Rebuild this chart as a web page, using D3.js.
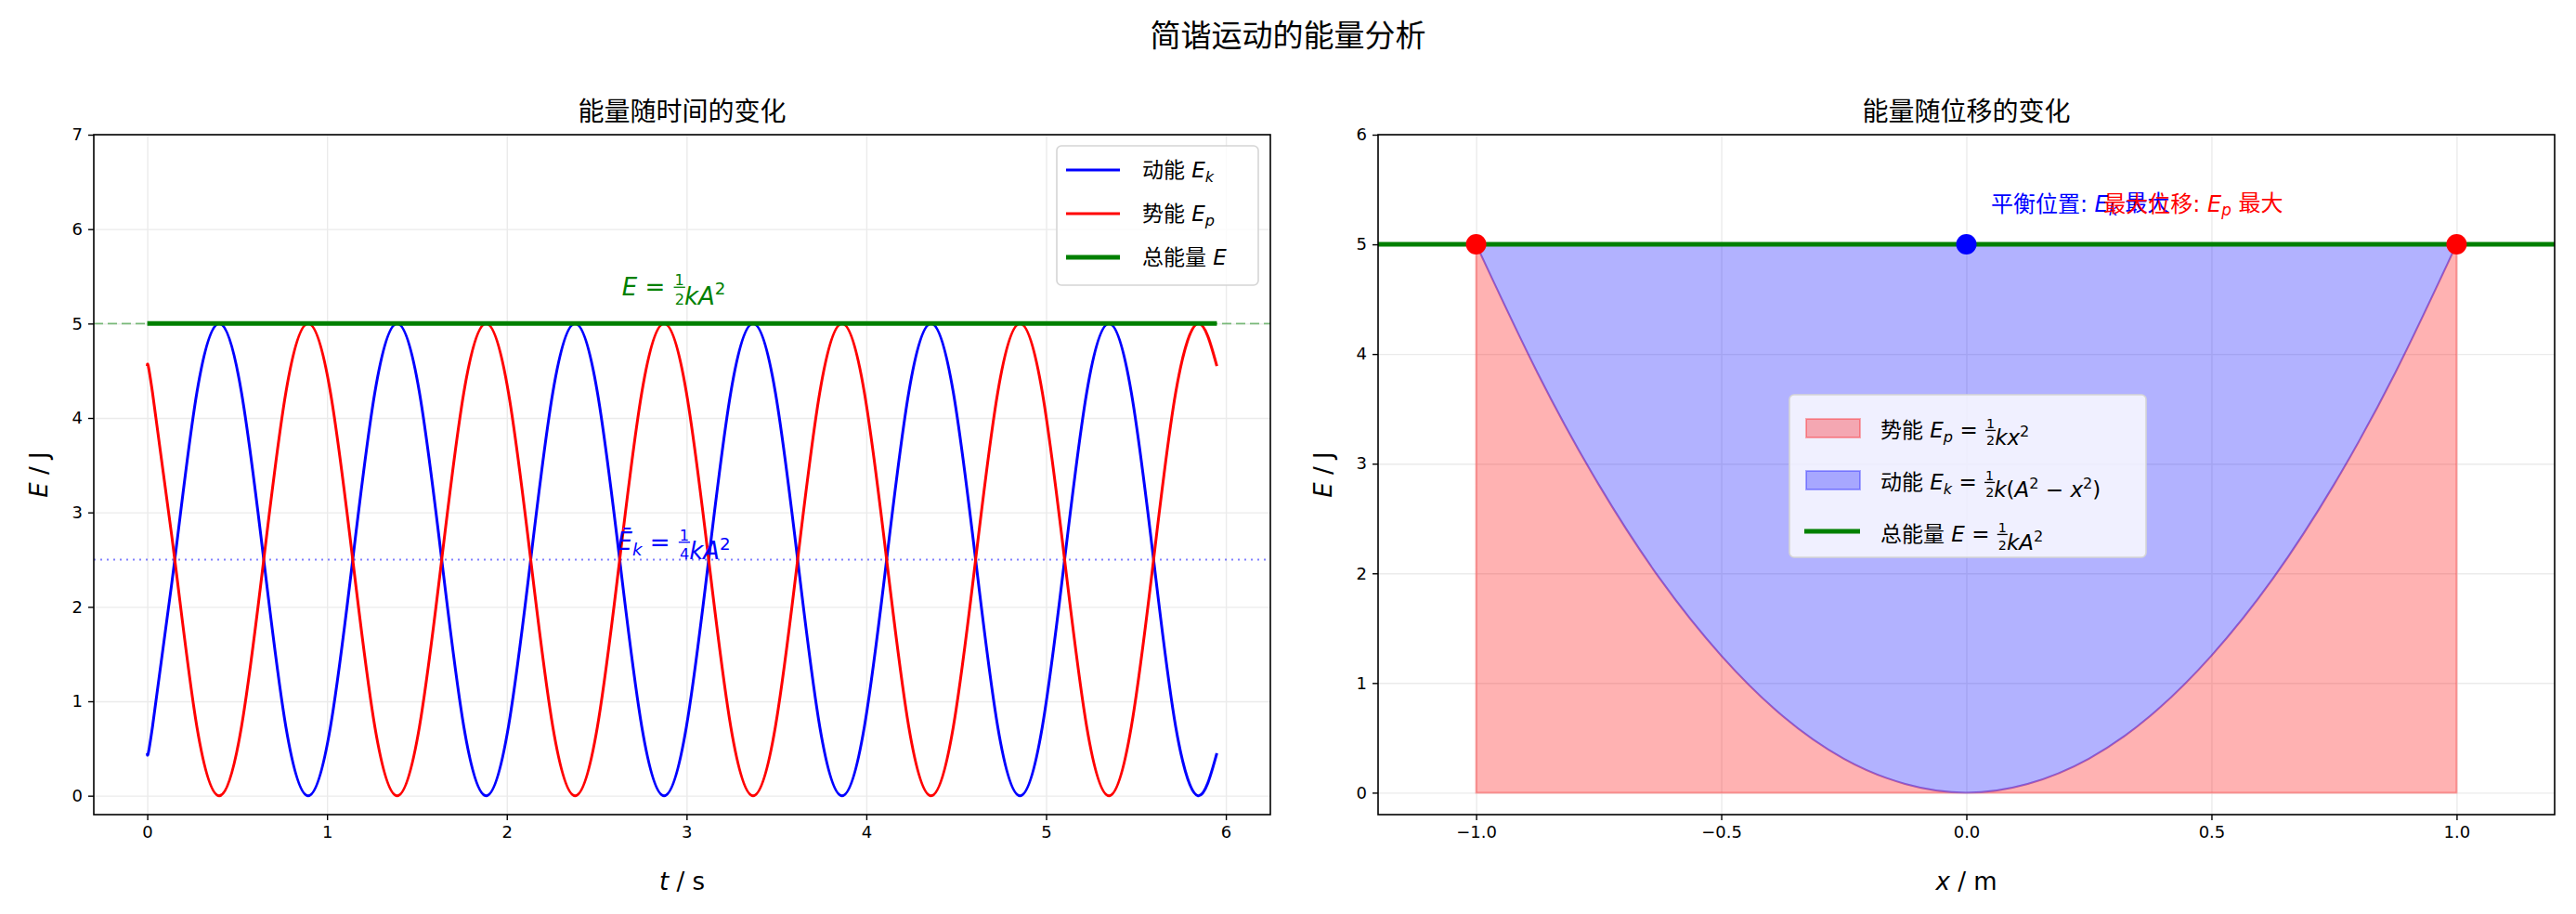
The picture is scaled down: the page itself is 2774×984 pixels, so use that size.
<!DOCTYPE html>
<html><head><meta charset="utf-8">
<script src="https://cdn.jsdelivr.net/npm/d3@7"></script>
<style>body{margin:0;background:#fff} text{font-family:"DejaVu Sans","Noto Sans CJK SC",sans-serif}</style>
</head><body>
<svg id="c" width="2774" height="984"></svg>
<script>
// left panel: energy vs time
var timeS = [0,0.029,0.153,0.276,0.4,0.524,0.648,0.771,0.895,1.019,1.143,1.266,1.39,1.514,1.638,1.761,1.885,2.009,2.133,2.256,2.38,2.504,2.628,2.751,2.875,2.999,3.123,3.246,3.37,3.494,3.618,3.741,3.865,3.989,4.113,4.236,4.36,4.484,4.608,4.731,4.855,4.979,5.103,5.226,5.35,5.474,5.598,5.721,5.845,5.95];
var kinetic = [0.45,0.73,2.5,4.27,5,4.27,2.5,0.73,0,0.73,2.5,4.27,5,4.27,2.5,0.73,0,0.73,2.5,4.27,5,4.27,2.5,0.73,0,0.73,2.5,4.27,5,4.27,2.5,0.73,0,0.73,2.5,4.27,5,4.27,2.5,0.73,0,0.73,2.5,4.27,5,4.27,2.5,0.73,0,0.45];
var potential = [4.55,4.27,2.5,0.73,0,0.73,2.5,4.27,5,4.27,2.5,0.73,0,0.73,2.5,4.27,5,4.27,2.5,0.73,0,0.73,2.5,4.27,5,4.27,2.5,0.73,0,0.73,2.5,4.27,5,4.27,2.5,0.73,0,0.73,2.5,4.27,5,4.27,2.5,0.73,0,0.73,2.5,4.27,5,4.55];
var totalE = 5, meanEk = 2.5;
var tTicks = [0,1,2,3,4,5,6], eTicksL = [0,1,2,3,4,5,6,7];
// right panel: energy vs displacement
var posX = [-1,-0.875,-0.75,-0.625,-0.5,-0.375,-0.25,-0.125,0,0.125,0.25,0.375,0.5,0.625,0.75,0.875,1];
var epX = [5,3.83,2.81,1.95,1.25,0.70,0.31,0.08,0,0.08,0.31,0.70,1.25,1.95,2.81,3.83,5];
var markX = [-1,0,1], markE = [5,5,5], markC = ["red","blue","red"];
var xTicksR = [-1,-0.5,0,0.5,1], eTicksR = [0,1,2,3,4,5,6];

var svg = d3.select("#c");
var T = 145, B = 877;

// math-ish text: segments [text, style, dy] style: r roman, i italic, sub, sup, frac "n/d"
function mtext(g, x, y, segs, size, color, anchor) {
  var t = g.append("text").attr("x", x).attr("y", y).attr("fill", color).style("font-size", size + "px");
  var fr = [];
  segs.forEach(function(s) {
    if (s[1] == "frac") {
      var nd = s[0].split("/");
      var n = t.append("tspan").attr("dx", 2).attr("dy", -size*0.42).style("font-size", size*0.62 + "px").text(nd[0]);
      t.append("tspan").attr("dx", -size*0.39).attr("dy", size*0.8).style("font-size", size*0.62 + "px").text(nd[1]);
      t.append("tspan").attr("dx", 2).attr("dy", -size*0.38).text("");
      fr.push(n);
      return;
    }
    var sp = t.append("tspan").text(s[0]);
    if (s[1] == "i") sp.style("font-style", "italic");
    if (s[1] == "sub") sp.style("font-style", "italic").style("font-size", size*0.7 + "px").attr("dy", size*0.2);
    if (s[1] == "sup") sp.style("font-size", size*0.7 + "px").attr("dy", -size*0.4);
    if (s[2]) sp.attr("dy", s[2]);
  });
  if (anchor == "middle") {
    var w = t.node().getComputedTextLength();
    t.attr("x", x - w/2);
  }
  fr.forEach(function(n) {
    var p = n.node().getStartPositionOfChar(0);
    var w = n.node().getComputedTextLength();
    g.append("line").attr("x1", p.x - 1).attr("x2", p.x + w + 1)
      .attr("y1", y - size*0.33).attr("y2", y - size*0.33).attr("stroke", color).attr("stroke-width", 1.3);
  });
  return t;
}

function frame(g, x, y, w, h) {
  g.append("rect").attr("x", x).attr("y", y).attr("width", w).attr("height", h)
    .attr("fill", "none").attr("stroke", "black").attr("stroke-width", 1.6);
}

function panel(L, R, xs, ys, xt, yt) {
  var g = svg.append("g");
  g.append("g").attr("transform", "translate(0," + B + ")")
    .call(d3.axisBottom(xs).tickValues(xt).tickSize(-(B - T)).tickFormat(""))
    .call(function(a){ a.selectAll("line").attr("stroke", "#ebebeb").attr("stroke-width", 1.4); a.select(".domain").remove(); });
  g.append("g").attr("transform", "translate(" + L + ",0)")
    .call(d3.axisLeft(ys).tickValues(yt).tickSize(-(R - L)).tickFormat(""))
    .call(function(a){ a.selectAll("line").attr("stroke", "#ebebeb").attr("stroke-width", 1.4); a.select(".domain").remove(); });
  return g;
}

function axes(g, L, R, xs, ys, xt, yt, xfmt) {
  var ax = g.append("g").attr("transform", "translate(0," + B + ")")
    .call(d3.axisBottom(xs).tickValues(xt).tickSize(6).tickPadding(6).tickFormat(xfmt));
  var ay = g.append("g").attr("transform", "translate(" + L + ",0)")
    .call(d3.axisLeft(ys).tickValues(yt).tickSize(6).tickPadding(6).tickFormat(d3.format("d")));
  [ax, ay].forEach(function(a){
    a.select(".domain").remove();
    a.selectAll("line").attr("stroke", "black").attr("stroke-width", 1.4);
    a.selectAll("text").style("font-size", "18px").attr("fill", "black");
  });
  frame(g, L, T, R - L, B - T);
}

function labels(g, L, R, title, xl) {
  g.append("text").attr("x", (L + R)/2).attr("y", 130).attr("text-anchor", "middle")
    .style("font-size", "28px").style("font-family", "Noto Sans CJK SC").text(title);
  mtext(g, (L + R)/2, 958, [[xl, "i"], [" / ", "r"], [xl == "t" ? "s" : "m", "r"]], 26, "black", "middle");
  var yl = g.append("g").attr("transform", "translate(" + (L - 50) + "," + (T + B)/2 + ") rotate(-90)");
  mtext(yl, 0, 0, [["E", "i"], [" / J", "r"]], 26, "black", "middle");
}

svg.append("text").attr("x", 1387).attr("y", 50).attr("text-anchor", "middle")
  .style("font-size", "33px").style("font-family", "Noto Sans CJK SC").text("简谐运动的能量分析");

// ---- left
var L1 = 101, R1 = 1368;
var x1 = d3.scaleLinear().domain([-0.2975, 6.2475]).range([L1, R1]);
var y1 = d3.scaleLinear().domain([-0.2, 7]).range([B, T]);
var g1 = panel(L1, R1, x1, y1, tTicks, eTicksL);
g1.append("line").attr("x1", L1).attr("x2", R1).attr("y1", y1(totalE)).attr("y2", y1(totalE))
  .attr("stroke", "green").attr("stroke-opacity", 0.5).attr("stroke-width", 1.6).attr("stroke-dasharray", "10,5");
g1.append("line").attr("x1", L1).attr("x2", R1).attr("y1", y1(meanEk)).attr("y2", y1(meanEk))
  .attr("stroke", "blue").attr("stroke-opacity", 0.5).attr("stroke-width", 2.2).attr("stroke-dasharray", "2,5");
var line1 = d3.line().x(function(d){ return x1(d[0]); }).y(function(d){ return y1(d[1]); }).curve(d3.curveNatural);
g1.append("path").attr("d", line1(d3.zip(timeS, kinetic))).attr("fill", "none").attr("stroke", "blue").attr("stroke-width", 3);
g1.append("path").attr("d", line1(d3.zip(timeS, potential))).attr("fill", "none").attr("stroke", "red").attr("stroke-width", 3);
g1.append("line").attr("x1", x1(timeS[0])).attr("x2", x1(timeS[timeS.length-1])).attr("y1", y1(totalE)).attr("y2", y1(totalE))
  .attr("stroke", "green").attr("stroke-width", 5);
mtext(g1, x1(2.95), y1(5.3), [["E", "i"], [" = ", "r"], ["1/2", "frac"], ["kA", "i"], ["2", "sup"]], 26, "green", "middle");
mtext(g1, x1(2.95), y1(2.6), [["Ē", "i"], ["k", "sub"], [" = ", "r", -5], ["1/4", "frac"], ["kA", "i"], ["2", "sup"]], 26, "blue", "middle");
axes(g1, L1, R1, x1, y1, tTicks, eTicksL, d3.format("d"));
labels(g1, L1, R1, "能量随时间的变化", "t");
// legend left
var lg = g1.append("g").attr("transform", "translate(1138,157)");
lg.append("rect").attr("width", 217).attr("height", 150).attr("rx", 5).attr("fill", "white").attr("fill-opacity", 0.8).attr("stroke", "#d5d5d5").attr("stroke-width", 1.6);
var leg1 = [["动能  ", "k", "blue", 3], ["势能  ", "p", "red", 3], ["总能量  ", "", "green", 5]];
leg1.forEach(function(d, i) {
  var yy = 26 + i * 47;
  lg.append("line").attr("x1", 10).attr("x2", 68).attr("y1", yy).attr("y2", yy).attr("stroke", d[2]).attr("stroke-width", d[3]);
  var segs = [[d[0], "r"], ["E", "i"]];
  if (d[1]) segs.push([d[1], "sub"]);
  mtext(lg, 92, yy + 8, segs, 23, "black");
});

// ---- right
var L2 = 1484, R2 = 2751;
var x2 = d3.scaleLinear().domain([-1.2, 1.2]).range([L2, R2]);
var y2 = d3.scaleLinear().domain([-0.2, 6]).range([B, T]);
var g2 = panel(L2, R2, x2, y2, xTicksR, eTicksR);
var pts = d3.zip(posX, epX);
var areaP = d3.area().x(function(d){ return x2(d[0]); }).y0(y2(0)).y1(function(d){ return y2(d[1]); }).curve(d3.curveNatural);
var areaK = d3.area().x(function(d){ return x2(d[0]); }).y0(function(d){ return y2(d[1]); }).y1(y2(totalE)).curve(d3.curveNatural);
g2.append("path").attr("d", areaP(pts)).attr("fill", "red").attr("fill-opacity", 0.3).attr("stroke", "red").attr("stroke-opacity", 0.3).attr("stroke-width", 2);
g2.append("path").attr("d", areaK(pts)).attr("fill", "blue").attr("fill-opacity", 0.3).attr("stroke", "blue").attr("stroke-opacity", 0.3).attr("stroke-width", 2);
g2.append("line").attr("x1", L2).attr("x2", R2).attr("y1", y2(totalE)).attr("y2", y2(totalE)).attr("stroke", "green").attr("stroke-width", 5);
g2.selectAll("circle").data(markX).enter().append("circle")
  .attr("cx", function(d){ return x2(d); }).attr("cy", function(d, i){ return y2(markE[i]); })
  .attr("r", 11).attr("fill", function(d, i){ return markC[i]; });
mtext(g2, x2(0.05), y2(5.3), [["平衡位置: ", "r"], ["E", "i"], ["k", "sub"], [" 最大", "r", -5]], 24, "blue");
mtext(g2, x2(0.28), y2(5.3), [["最大位移: ", "r"], ["E", "i"], ["p", "sub"], [" 最大", "r", -5]], 24, "red");
axes(g2, L2, R2, x2, y2, xTicksR, eTicksR, d3.format(".1f"));
labels(g2, L2, R2, "能量随位移的变化", "x");
// legend right
var lg2 = g2.append("g").attr("transform", "translate(1927,425)");
lg2.append("rect").attr("width", 384).attr("height", 175).attr("rx", 5).attr("fill", "white").attr("fill-opacity", 0.8).attr("stroke", "#d5d5d5").attr("stroke-width", 1.6);
lg2.append("rect").attr("x", 18).attr("y", 26).attr("width", 58).attr("height", 20).attr("fill", "red").attr("fill-opacity", 0.3).attr("stroke", "red").attr("stroke-opacity", 0.3).attr("stroke-width", 2);
lg2.append("rect").attr("x", 18).attr("y", 82).attr("width", 58).attr("height", 20).attr("fill", "blue").attr("fill-opacity", 0.3).attr("stroke", "blue").attr("stroke-opacity", 0.3).attr("stroke-width", 2);
lg2.append("line").attr("x1", 16).attr("x2", 76).attr("y1", 147).attr("y2", 147).attr("stroke", "green").attr("stroke-width", 5);
mtext(lg2, 98, 46, [["势能  ", "r"], ["E", "i"], ["p", "sub"], [" = ", "r", -5], ["1/2", "frac"], ["kx", "i"], ["2", "sup"]], 23, "black");
mtext(lg2, 98, 102, [["动能  ", "r"], ["E", "i"], ["k", "sub"], [" = ", "r", -5], ["1/2", "frac"], ["k", "i"], ["(", "r"], ["A", "i"], ["2", "sup"], [" − ", "r", 9], ["x", "i"], ["2", "sup"], [")", "r", 9]], 23, "black");
mtext(lg2, 98, 158, [["总能量  ", "r"], ["E", "i"], [" = ", "r"], ["1/2", "frac"], ["kA", "i"], ["2", "sup"]], 23, "black");
</script>
</body></html>
